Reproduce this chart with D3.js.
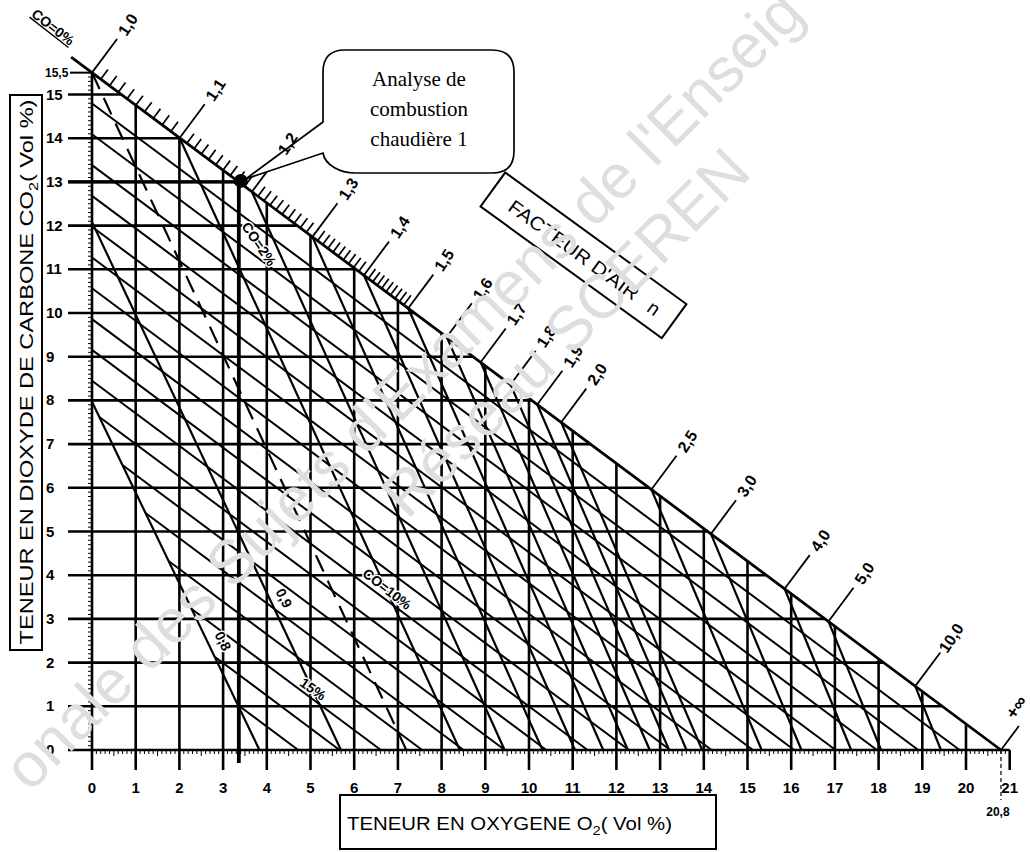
<!DOCTYPE html>
<html><head><meta charset="utf-8">
<script src="https://cdn.jsdelivr.net/npm/d3@7"></script>
<style>body{margin:0;background:#fff}svg{display:block}</style>
</head><body>
<svg id="chart" width="1030" height="852"></svg>
<script>
// ---------- data ----------
const o2Ticks = [0,1,2,3,4,5,6,7,8,9,10,11,12,13,14,15,16,17,18,19,20,21];
const co2Ticks = [0,1,2,3,4,5,6,7,8,9,10,11,12,13,14,15];
const co2Max = 15.5;   // CO2 max (vol %)
const o2Max = 20.8;    // O2 of air (vol %)

// air-factor lines n : top point (O2, CO2) and foot on the O2 axis
const airFactors = [0.8,0.9,1.0,1.1,1.2,1.3,1.4,1.5,1.6,1.7,1.8,1.9,2.0,2.5,3.0,4.0,5.0,10.0];
const nTopO2  = [0,0,0,2.005,3.658,5.043,6.222,7.236,8.118,8.893,9.578,10.189,10.737,12.801,14.163,15.849,16.852,18.838];
const nTopCO2 = [7.97,12.08,15.50,14.005,12.774,11.741,10.863,10.108,9.450,8.873,8.362,7.907,7.499,5.960,4.946,3.690,2.942,1.462];
const nFootO2 = [3.832,5.697,7.192,8.418,9.442,10.309,11.053,11.699,12.264,12.763,13.207,13.605,13.963,15.325,16.235,17.373,18.057,19.427];

// CO lines (CO %) : start point (O2, CO2) and foot on the O2 axis
const coValues   = [1,2,3,4,5,6,7,8,9,10,11,12,13,14,15,16,17];
const coStartO2  = [0,0,0,0,0,0,0,0,0,0,0.168,0.696,1.224,1.753,2.281,2.816,3.337];
const coStartCO2 = [14.795,14.090,13.385,12.680,11.975,11.270,10.565,9.860,9.155,8.450,7.620,6.522,5.423,4.325,3.226,2.128,1.029];
const coFootO2   = [19.854,18.908,17.962,17.016,16.070,15.124,14.178,13.232,12.286,11.340,10.394,9.448,8.502,7.556,6.611,5.665,4.719];

// air factor scale along the CO=0% line
const nScaleValues = [1.0,1.1,1.2,1.3,1.4,1.5];
const nScaleO2     = [0,2.005,3.658,5.043,6.222,7.236];
const nLabels   = ["1,0","1,1","1,2","1,3","1,4","1,5","1,6","1,7","1,8","1,9","2,0","2,5","3,0","4,0","5,0","10,0","+∞"];
const nLabelO2  = [0,2.005,3.658,5.043,6.222,7.236,8.118,8.893,9.578,10.189,10.737,12.801,14.163,15.849,16.852,18.838,20.8];

// measured point
const measure = {o2: 3.36, co2: 13};

// watermark lines (visible parts)
const watermark = ["onale des Sujets d'Examens de l'Enseig", "Réseau SCEREN"];

// ---------- drawing ----------
const svg = d3.select("#chart");
const S = 43.7;
const x = d3.scaleLinear().domain([0,21]).range([92, 92 + 21*S]);
const y = d3.scaleLinear().domain([0,15.5]).range([750, 750 - 15.5*S]);
const hypCO2 = o2 => co2Max*(1 - o2/o2Max);
const hypO2 = co2 => o2Max*(1 - co2/co2Max);
const FONT = "'Liberation Sans', Arial, sans-serif";

const g = svg.append("g").attr("stroke","#000").attr("fill","none");

// minor ticks
const yMinor = d3.range(1,156).filter(v => v%10 !== 0).map(v => v/10);
g.append("g").selectAll("line").data(yMinor).join("line")
  .attr("x1", x(0)-4).attr("x2", x(0)).attr("y1", d=>y(d)).attr("y2", d=>y(d)).attr("stroke-width",1);
const xMinor = d3.range(1,210).filter(v => v%10 !== 0).map(v => v/10);
g.append("g").selectAll("line").data(xMinor).join("line")
  .attr("x1", d=>x(d)).attr("x2", d=>x(d)).attr("y1", y(0)).attr("y2", d=> y(0) + (Math.round(d*10)%5===0 ? 6 : 4)).attr("stroke-width",1);

// CO lines
g.append("g").selectAll("line").data(coValues).join("line")
  .attr("x1",(d,i)=>x(coStartO2[i])).attr("y1",(d,i)=>y(coStartCO2[i]))
  .attr("x2",(d,i)=>x(coFootO2[i])).attr("y2",y(0))
  .attr("stroke-width",2);

// air factor lines
g.append("g").selectAll("line").data(airFactors).join("line")
  .attr("x1",(d,i)=>x(nTopO2[i])).attr("y1",(d,i)=>y(nTopCO2[i]))
  .attr("x2",(d,i)=>x(nFootO2[i])).attr("y2",y(0))
  .attr("stroke-width",2.2)
  .attr("stroke-dasharray",d => d===1.0 ? "18,10" : null);

// horizontal grid (CO2)
g.append("g").selectAll("line").data(co2Ticks).join("line")
  .attr("x1",68).attr("x2",d => d===0 ? x(21) : x(hypO2(d)))
  .attr("y1",d=>y(d)).attr("y2",d=>y(d)).attr("stroke-width",2.6);
g.append("line").attr("x1",70).attr("x2",x(0)).attr("y1",y(15.5)).attr("y2",y(15.5)).attr("stroke-width",2);

// vertical grid (O2)
g.append("g").selectAll("line").data(o2Ticks).join("line")
  .attr("x1",d=>x(d)).attr("x2",d=>x(d)).attr("y1",y(0)+20)
  .attr("y2",d => d===0 ? y(co2Max) : (d<=20 ? y(hypCO2(d)) : y(0)))
  .attr("stroke-width",2.6);

// CO = 0% line (hypotenuse) with extension
const dx = x(o2Max)-x(0), dy = y(0)-y(co2Max), dl = Math.hypot(dx,dy);
const ux = dy/dl, uy = -dx/dl; // perpendicular, pointing up-right
g.append("line").attr("x1",x(0)-dx/dl*26).attr("y1",y(co2Max)-dy/dl*26)
  .attr("x2",x(o2Max)).attr("y2",y(0)).attr("stroke-width",2.8);

// 20,8 dashed marker
g.append("line").attr("x1",x(o2Max)).attr("x2",x(o2Max)).attr("y1",y(0)).attr("y2",y(0)+50)
  .attr("stroke-width",1.2).attr("stroke-dasharray","4,3");

// hatch ticks for n between 1.0 and 1.5
const nScale = d3.scaleLinear().domain(nScaleValues).range(nScaleO2);
const hatch = d3.range(101,150).filter(v => v%10 !== 0).map(v => v/100);
g.append("g").selectAll("line").data(hatch).join("line")
  .attr("x1",d=>x(nScale(d))).attr("y1",d=>y(hypCO2(nScale(d))))
  .attr("x2",d=>x(nScale(d))+ux*12).attr("y2",d=>y(hypCO2(nScale(d)))+uy*12)
  .attr("stroke-width",1.7);

// leader lines for n labels
const lead = i => i===16 ? 30 : 42;
g.append("g").selectAll("line").data(nLabels).join("line")
  .attr("x1",(d,i)=>x(nLabelO2[i])).attr("y1",(d,i)=>y(hypCO2(nLabelO2[i])))
  .attr("x2",(d,i)=>x(nLabelO2[i])+ux*lead(i)).attr("y2",(d,i)=>y(hypCO2(nLabelO2[i]))+uy*lead(i))
  .attr("stroke-width",1.8);

// measurement lines
g.append("line").attr("x1",68).attr("x2",x(measure.o2)).attr("y1",y(measure.co2)).attr("y2",y(measure.co2)).attr("stroke-width",3.4);
g.append("line").attr("x1",x(measure.o2)).attr("x2",x(measure.o2)).attr("y1",y(measure.co2)).attr("y2",y(0)+13).attr("stroke-width",3.8);

// callout
const cx0 = x(measure.o2)+7, cy0 = y(measure.co2)-3;
svg.append("path").attr("fill","#fff").attr("stroke","#000").attr("stroke-width",1.7)
  .attr("d",`M323,122 L323,72 Q323,50 345,50 L492,50 Q514,50 514,72 L514,151 Q514,173 492,173 L355,173 C340,173 325,165 323,153 L${cx0},${cy0} Z`);
svg.append("circle").attr("cx",x(measure.o2)+2).attr("cy",y(measure.co2)-1).attr("r",7).attr("fill","#000");

// ---------- texts ----------
const T = svg.append("g").attr("font-family",FONT).attr("fill","#000");
const callTxt = ["Analyse de","combustion","chaudière 1"];
T.selectAll("text.cl").data(callTxt).join("text").attr("class","cl")
  .attr("x",419).attr("y",(d,i)=>86+i*30).attr("text-anchor","middle")
  .attr("font-family","'Liberation Serif','Times New Roman',serif").attr("font-size",21).text(d=>d);

T.selectAll("text.xt").data(o2Ticks).join("text").attr("class","xt")
  .attr("x",d=>x(d)).attr("y",793).attr("text-anchor","middle").attr("font-size",15).attr("font-weight","bold").text(d=>d);
T.selectAll("text.yt").data(co2Ticks).join("text").attr("class","yt")
  .attr("x",46).attr("y",d=>y(d)+5).attr("font-size",15).attr("font-weight","bold").text(d=>d);
T.append("text").attr("x",45).attr("y",y(15.5)+4).attr("font-size",12).attr("font-weight","bold").text("15,5");
T.append("text").attr("x",x(o2Max)-3).attr("y",816).attr("text-anchor","middle").attr("font-size",12).attr("font-weight","bold").text("20,8");

// n labels
T.selectAll("text.nl").data(nLabels).join("text").attr("class","nl")
  .attr("transform",(d,i)=>{
    if (i===16) return "translate(1016,707) rotate(-56)";
    const px=x(nLabelO2[i])+ux*60, py=y(hypCO2(nLabelO2[i]))+uy*60;
    return `translate(${px},${py}) rotate(-57)`;})
  .attr("text-anchor","middle").attr("dy","0.35em").attr("font-size",d=>d==="+∞"?18:16).attr("font-weight","bold").text(d=>d);

// in-chart labels with white halo
const halo = (sel) => sel.attr("stroke","#fff").attr("stroke-width",3).attr("paint-order","stroke");
const inner = [
  {t:"CO=2%", x:259, y:244, r:56, s:14},
  {t:"CO=10%", x:387, y:589, r:38, s:14},
  {t:"15%", x:313, y:689, r:35, s:14},
  {t:"0,9", x:284, y:598, r:64, s:14},
  {t:"0,8", x:223, y:641, r:64, s:14}
];
inner.forEach(o => halo(T.append("text").attr("transform",`translate(${o.x},${o.y}) rotate(${o.r})`)
  .attr("text-anchor","middle").attr("dy","0.35em").attr("font-size",o.s).attr("font-weight","bold").text(o.t)));
T.append("text").attr("transform","translate(50,31) rotate(38)").attr("text-anchor","middle")
  .attr("font-size",14).attr("font-weight","bold").attr("text-decoration","underline").text("CO=0%");

// FACTEUR D'AIR box
const fb = svg.append("g").attr("transform","translate(583.5,255.3) rotate(36)");
fb.append("rect").attr("x",-112).attr("y",-21).attr("width",224).attr("height",42).attr("fill","#fff").attr("stroke","#000").attr("stroke-width",2);
fb.append("text").attr("x",-89).attr("y",8).attr("font-family",FONT).attr("font-size",19).attr("textLength",156).attr("lengthAdjust","spacingAndGlyphs").text("FACTEUR D'AIR");
fb.append("text").attr("x",88).attr("y",8).attr("text-anchor","middle").attr("font-family",FONT).attr("font-size",19).text("n");

// axis title boxes
svg.append("rect").attr("x",10).attr("y",95).attr("width",32).attr("height",555).attr("fill","#fff").attr("stroke","#000").attr("stroke-width",2);
const yt = svg.append("text").attr("transform","translate(33,372) rotate(-90)").attr("text-anchor","middle")
  .attr("font-family",FONT).attr("font-size",19).attr("textLength",545).attr("lengthAdjust","spacingAndGlyphs");
yt.append("tspan").text("TENEUR EN DIOXYDE DE CARBONE CO");
yt.append("tspan").attr("font-size",13).attr("dy",5).text("2");
yt.append("tspan").attr("dy",-5).text("( Vol %)");

svg.append("rect").attr("x",340).attr("y",795).attr("width",376).attr("height",54).attr("fill","#fff").attr("stroke","#000").attr("stroke-width",2);
const xt = svg.append("text").attr("x",347).attr("y",830).attr("font-family",FONT).attr("font-size",18).attr("textLength",325).attr("lengthAdjust","spacingAndGlyphs");
xt.append("tspan").text("TENEUR EN OXYGENE O");
xt.append("tspan").attr("font-size",13).attr("dy",5).text("2");
xt.append("tspan").attr("dy",-5).text("( Vol %)");

// watermark (light grey, diagonal)
const wm = svg.append("g").attr("transform","rotate(-45)").attr("font-family",FONT).attr("font-size",62).attr("fill","#dedede");
wm.append("text").attr("x",-540).attr("y",582).text(watermark[0]);
wm.append("text").attr("x",-80).attr("y",656).text(watermark[1]);
</script>
</body></html>
